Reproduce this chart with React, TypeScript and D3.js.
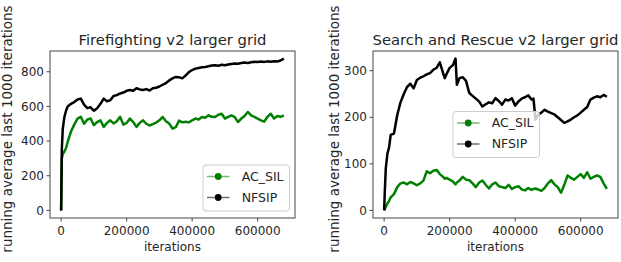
import React from 'react';
import * as d3 from 'd3';

// iterations are stored in thousands
const ffIterK = [0, 2, 5, 10, 15, 20, 30, 40, 50, 60, 70, 80, 90, 100, 110, 120, 130, 140, 150, 160, 170, 180, 190, 200, 210, 220, 230, 240, 250, 260, 270, 280, 290, 300, 310, 320, 330, 340, 350, 360, 370, 380, 390, 400, 410, 420, 430, 440, 450, 460, 470, 480, 490, 500, 510, 520, 530, 540, 550, 560, 570, 580, 590, 600, 610, 620, 630, 640, 650, 660, 670, 680];
const ffNfsip = [0, 350, 470, 540, 575, 600, 615, 625, 640, 645, 610, 590, 595, 575, 590, 615, 645, 630, 635, 660, 665, 675, 680, 690, 695, 690, 705, 698, 695, 700, 692, 705, 708, 715, 725, 735, 750, 762, 770, 768, 762, 778, 798, 810, 818, 822, 826, 828, 832, 836, 838, 835, 840, 838, 842, 845, 848, 846, 850, 853, 851, 855, 858, 856, 859, 857, 860, 858, 861, 859, 865, 876];
const ffAcSil = [0, 300, 325, 340, 360, 395, 455, 495, 530, 540, 500, 525, 530, 492, 510, 520, 482, 505, 520, 502, 515, 540, 495, 505, 530, 510, 482, 505, 520, 500, 490, 498, 507, 520, 539, 515, 501, 472, 480, 518, 508, 512, 508, 520, 530, 525, 539, 535, 549, 540, 539, 552, 558, 530, 540, 549, 538, 510, 530, 545, 568, 548, 540, 530, 520, 512, 540, 558, 530, 545, 540, 549];
const ffYTicks = [0, 200, 400, 600, 800];

const sarIterK = [0, 2, 5, 10, 15, 20, 30, 40, 50, 60, 70, 80, 90, 100, 110, 120, 130, 140, 150, 160, 170, 180, 185, 190, 200, 210, 218, 222, 230, 240, 250, 260, 270, 280, 290, 300, 310, 320, 330, 340, 350, 360, 370, 380, 390, 400, 410, 420, 430, 440, 450, 456, 462, 470, 480, 490, 500, 510, 520, 530, 540, 550, 560, 570, 580, 590, 600, 610, 620, 630, 640, 650, 660, 670, 680];
const sarNfsip = [0, 40, 90, 122, 135, 162, 165, 205, 232, 250, 265, 272, 262, 280, 285, 288, 292, 295, 302, 306, 318, 295, 284, 292, 306, 312, 326, 270, 284, 286, 278, 252, 246, 240, 234, 223, 228, 232, 230, 241, 235, 227, 238, 236, 241, 225, 234, 240, 243, 247, 238, 240, 195, 205, 210, 216, 212, 209, 206, 200, 194, 188, 191, 195, 200, 204, 210, 216, 222, 238, 242, 245, 243, 248, 244];
const sarAcSil = [0, 3, 8, 15, 20, 28, 35, 50, 58, 60, 56, 61, 58, 54, 58, 64, 84, 80, 85, 87, 78, 72, 68, 70, 66, 62, 56, 60, 64, 72, 66, 65, 58, 50, 60, 64, 55, 47, 56, 60, 52, 50, 48, 55, 46, 50, 52, 45, 43, 48, 44, 46, 47, 45, 42, 48, 58, 65, 56, 50, 38, 55, 75, 70, 66, 72, 78, 70, 82, 68, 72, 75, 72, 58, 46];
const sarYTicks = [0, 100, 200, 300];

const xTicks = [0, 200000, 400000, 600000];
const seriesNames = ['AC_SIL', 'NFSIP'];
const seriesColors = ['#008000', '#000000'];

const FONT = '"DejaVu Sans", sans-serif';

type Pt = [number, number];

function pad(ext: [number, number]): [number, number] {
  const r = ext[1] - ext[0];
  return [ext[0] - r * 0.05, ext[1] + r * 0.05];
}

function Panel({ title, iterK, series, yTicks, left, labelX, legendX, legendY }: {
  title: string; iterK: number[]; series: number[][]; yTicks: number[];
  left: number; labelX: number; legendX: number; legendY: number;
}) {
  const top = 51, bottom = 218, right = left + 245;
  const pts: Pt[][] = series.map(vals => iterK.map((k, i) => [k * 1000, vals[i]] as Pt));
  const all = pts.flat();
  const x = d3.scaleLinear().domain(pad(d3.extent(all, d => d[0]) as [number, number])).range([left, right]);
  const y = d3.scaleLinear().domain(pad(d3.extent(all, d => d[1]) as [number, number])).range([bottom, top]);
  const line = d3.line<Pt>().x(d => x(d[0])).y(d => y(d[1]));
  const cx = (left + right) / 2;

  return (
    <g fontFamily={FONT} fill="#262626">
      <defs>
        <clipPath id={`clip-${left}`}>
          <rect x={left} y={top} width={right - left} height={bottom - top} />
        </clipPath>
      </defs>
      <g clipPath={`url(#clip-${left})`}>
        {pts.map((p, i) => (
          <path key={i} d={line(p) || ''} fill="none" stroke={seriesColors[i]} strokeWidth={2.5} strokeLinejoin="round" />
        ))}
      </g>
      <rect x={left} y={top} width={right - left} height={bottom - top} fill="none" stroke="#444" strokeWidth={1} />
      {yTicks.map(t => (
        <g key={t}>
          <line x1={left - 3.5} x2={left} y1={y(t)} y2={y(t)} stroke="#444" />
          <text x={left - 6} y={y(t)} dy="0.35em" textAnchor="end" fontSize={12}>{t}</text>
        </g>
      ))}
      {xTicks.map(t => (
        <g key={t}>
          <line x1={x(t)} x2={x(t)} y1={bottom} y2={bottom + 3.5} stroke="#444" />
          <text x={x(t)} y={235} textAnchor="middle" fontSize={12}>{t}</text>
        </g>
      ))}
      <text x={cx} y={250.5} textAnchor="middle" fontSize={12}>iterations</text>
      <text x={cx} y={44.5} textAnchor="middle" fontSize={14.8}>{title}</text>
      <text transform={`translate(${labelX},129) rotate(-90)`} textAnchor="middle" fontSize={13.5}>
        running average last 1000 iterations
      </text>
      <g transform={`translate(${legendX},${legendY})`}>
        <rect x={0} y={0} width={86.5} height={46} rx={3} fill="#fff" fillOpacity={0.8} stroke="#ccc" />
        {seriesNames.map((n, i) => (
          <g key={n} transform={`translate(0,${11.5 + i * 21})`}>
            <line x1={4} x2={26.5} y1={0} y2={0} stroke={seriesColors[i]} strokeOpacity={0.55} strokeWidth={1.5} />
            <circle cx={15.2} cy={0} r={3.4} fill={seriesColors[i]} />
            <text x={38.7} y={0} dy="0.35em" fontSize={12.5}>{n}</text>
          </g>
        ))}
      </g>
    </g>
  );
}

export default function App() {
  return (
    <svg width={621} height={262} style={{ position: 'absolute', left: 0, top: 0, background: '#fff' }}>
      <Panel title="Firefighting v2 larger grid" iterK={ffIterK} series={[ffAcSil, ffNfsip]} yTicks={ffYTicks}
        left={50} labelX={12} legendX={203} legendY={165} />
      <Panel title="Search and Rescue v2 larger grid" iterK={sarIterK} series={[sarAcSil, sarNfsip]} yTicks={sarYTicks}
        left={373} labelX={339} legendX={453} legendY={111.5} />
    </svg>
  );
}
